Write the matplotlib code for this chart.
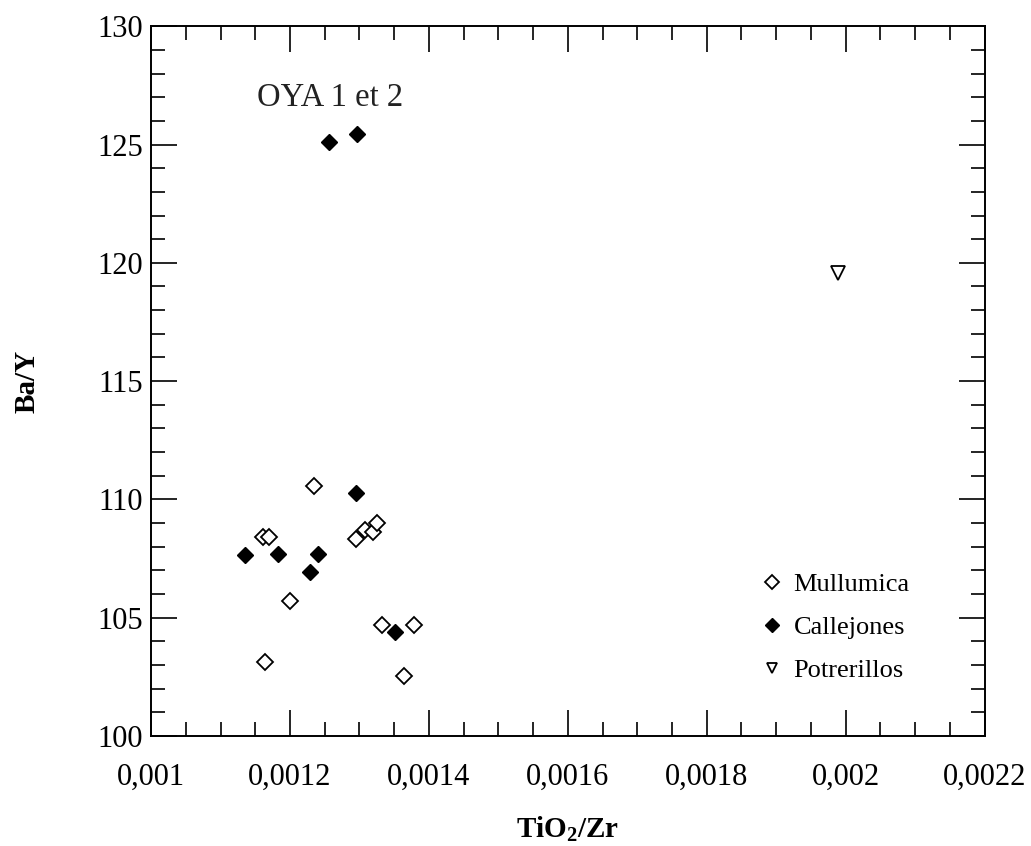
import matplotlib
matplotlib.use("Agg")
import matplotlib.pyplot as plt
from matplotlib.ticker import FixedLocator, MultipleLocator

plt.rcParams['font.family'] = ['Liberation Serif', 'DejaVu Serif']
plt.rcParams['mathtext.fontset'] = 'custom'
plt.rcParams['mathtext.rm'] = 'Liberation Serif'
plt.rcParams['mathtext.bf'] = 'Liberation Serif:bold'

# Data
mull_x = [0.001235, 0.001161, 0.001170, 0.0011996, 0.001295, 0.0013075,
          0.0013199, 0.0013256, 0.0013324, 0.0013784, 0.001164, 0.001364]
mull_y = [110.58, 108.40, 108.41, 105.72, 108.31, 108.71,
          108.64, 108.99, 104.70, 104.70, 103.13, 102.54]
call_x = [0.0011353, 0.0011832, 0.0012407, 0.0012288, 0.0012954, 0.0013515,
          0.001256, 0.0012964]
call_y = [107.64, 107.69, 107.69, 106.94, 110.27, 104.40, 125.09, 125.44]
potr_x = [0.001989]
potr_y = [119.56]

xticks = [0.001, 0.0012, 0.0014, 0.0016, 0.0018, 0.002, 0.0022]
xticklabels = ['0,001', '0,0012', '0,0014', '0,0016', '0,0018', '0,002', '0,0022']
yticks = [100, 105, 110, 115, 120, 125, 130]

fig = plt.figure(figsize=(10.31, 8.46), dpi=100)
ax = fig.add_axes([0.1465, 0.130, 0.8085, 0.839])

ax.plot(mull_x, mull_y, linestyle='none', marker='D', ms=8.5, mfc='white',
        mec='black', mew=1.3, label='Mullumica')
ax.plot(call_x, call_y, linestyle='none', marker='D', ms=8.5, mfc='black',
        mec='black', mew=1.0, label='Callejones')
ax.plot(potr_x, potr_y, linestyle='none', marker='v', ms=10.5, mfc='white',
        mec='black', mew=1.3, label='Potrerillos')

ax.set_xlim(0.001, 0.0022)
ax.set_ylim(100, 130)
ax.xaxis.set_major_locator(FixedLocator(xticks))
ax.set_xticklabels(xticklabels)
ax.xaxis.set_minor_locator(MultipleLocator(0.00005))
ax.yaxis.set_major_locator(FixedLocator(yticks))
ax.yaxis.set_minor_locator(MultipleLocator(1))

ax.tick_params(which='both', direction='in', top=True, right=True, width=1.2,
               labelsize=22, colors='black')
ax.tick_params(which='major', length=19)
ax.tick_params(which='minor', length=10)
ax.tick_params(axis='x', which='major', pad=19)
ax.tick_params(axis='y', which='major', pad=6)
for s in ax.spines.values():
    s.set_linewidth(1.4)

ax.set_xlabel(r'TiO$_\mathbf{2}$/Zr', fontsize=21, fontweight='bold', va='top')
ax.xaxis.set_label_coords(0.5, -0.110)
ax.set_ylabel('Ba/Y', fontsize=21, fontweight='bold')
ax.yaxis.set_label_coords(-0.133, 0.5)

ax.text(0.0012576, 126.96, 'OYA 1 et 2', fontsize=23.5, ha='center', va='center',
        color='#222222')

leg = ax.legend(loc='lower right', bbox_to_anchor=(0.9226, 0.0606), frameon=False,
                fontsize=19, handletextpad=0.3, labelspacing=0.75,
                handlelength=1.0, borderaxespad=0)
for h in leg.legend_handles:
    h.set_markersize(7)

fig.savefig('out.png', dpi=100)
